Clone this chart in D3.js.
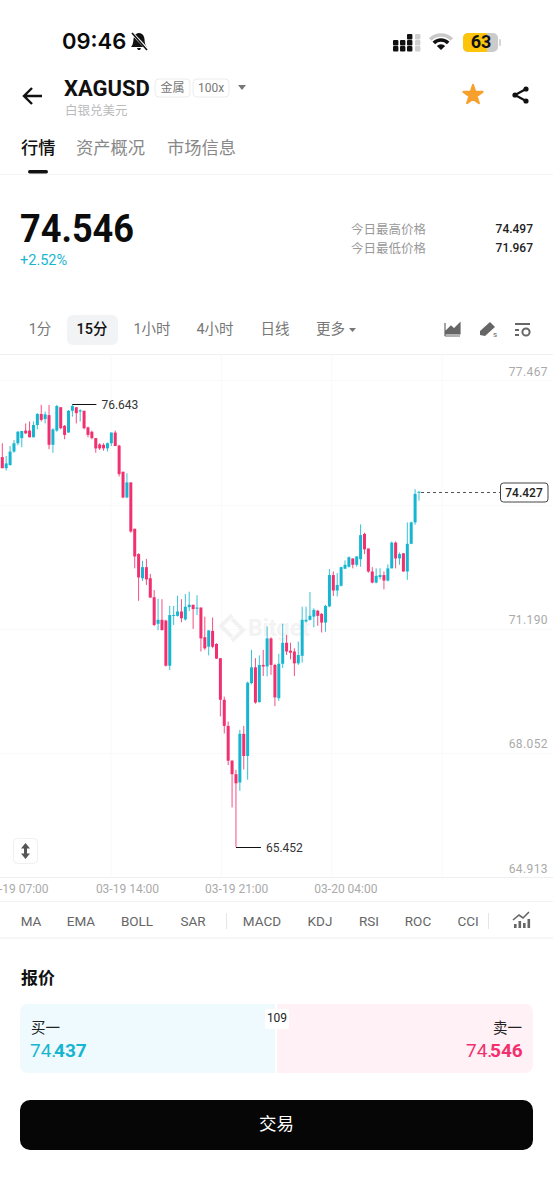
<!DOCTYPE html>
<html>
<head>
<meta charset="utf-8">
<title>XAGUSD</title>
<script src="https://cdn.jsdelivr.net/npm/d3@7"></script>
<style>
  html, body { margin: 0; background: #fff; }
  svg { display: block; }
  text { font-family: Roboto, "Noto Sans CJK SC", sans-serif; }
</style>
</head>
<body>
<div id="chart"></div>
<script>
// candles, oldest first (15 min)
var opens = [75.30,75.02,75.10,75.44,75.65,75.78,75.97,75.97,75.80,76.11,76.39,76.26,76.36,75.61,75.97,76.56,76.09,75.92,76.47,76.56,76.45,76.47,76.05,75.94,75.78,75.62,75.61,75.52,75.65,75.92,75.59,74.93,74.28,74.66,73.49,72.85,72.24,72.52,72.24,71.76,71.09,71.19,71.17,70.03,71.29,71.29,71.40,71.20,71.51,71.57,71.47,71.50,70.75,70.51,70.91,70.58,70.22,69.17,68.51,67.63,67.29,67.08,68.31,67.75,69.59,69.99,69.11,70.05,70.01,70.72,70.05,69.21,70.08,70.61,70.41,70.39,70.09,70.28,71.15,71.19,71.27,71.42,71.34,71.12,71.53,72.32,71.93,72.05,72.48,72.53,72.74,72.58,72.72,73.36,72.99,72.41,72.13,72.27,72.32,72.18,72.49,73.14,72.74,72.87,72.41,73.11,73.65,74.40];
var highs = [75.65,75.33,75.58,75.73,75.96,75.96,76.15,76.20,76.20,76.41,76.62,76.45,76.62,76.03,76.62,76.56,76.11,76.49,76.643,76.56,76.51,76.47,76.07,75.97,75.78,75.65,75.65,75.67,75.92,75.97,75.61,74.93,74.89,74.66,73.49,72.87,72.68,72.73,72.35,71.94,71.72,71.71,71.19,71.54,71.54,71.80,71.71,71.84,71.90,71.57,71.81,71.50,71.27,70.93,71.25,70.60,70.22,69.25,68.62,67.65,67.40,68.41,68.51,69.63,70.43,70.22,70.29,70.43,71.02,70.75,70.08,70.33,71.09,70.81,70.61,70.47,70.64,71.52,71.52,71.89,71.48,71.44,71.36,71.57,72.47,72.41,72.37,72.53,72.69,72.79,72.74,72.80,73.60,73.39,72.99,72.52,72.49,72.49,72.41,72.59,73.17,73.17,72.89,72.87,73.65,73.67,74.49,74.43];
var lows = [75.02,74.96,75.08,75.41,75.60,75.55,75.88,75.80,75.80,76.00,76.20,76.15,75.50,75.41,75.94,76.00,75.75,75.92,76.32,76.15,76.20,76.00,75.80,75.75,75.41,75.48,75.46,75.44,75.58,75.58,74.81,74.26,74.26,73.39,72.49,71.67,72.17,72.07,71.75,71.03,70.93,70.92,70.01,69.92,71.06,71.27,71.13,71.17,71.41,70.96,71.31,70.39,70.43,70.29,70.47,70.20,68.75,68.32,67.52,66.45,65.452,66.87,67.41,67.15,69.56,69.07,69.10,69.77,69.76,69.80,69.01,69.14,69.97,70.30,70.19,69.77,70.05,70.11,71.12,71.17,71.00,71.04,70.87,70.89,71.51,71.79,71.78,72.03,72.47,72.51,72.49,72.53,72.53,72.85,72.38,72.11,72.11,72.21,71.96,72.16,72.49,72.49,72.58,72.41,72.20,73.10,73.59,74.20];
var closes = [75.02,75.14,75.44,75.65,75.94,75.96,75.90,75.80,76.11,76.39,76.24,76.38,75.61,76.00,76.59,76.03,75.86,76.47,76.59,76.41,76.48,76.03,75.86,75.78,75.52,75.52,75.52,75.65,75.92,75.58,74.87,74.28,74.66,73.42,72.79,72.26,72.52,72.21,71.75,71.06,71.19,70.93,70.03,71.31,71.31,71.40,71.23,71.52,71.57,71.46,71.50,70.72,70.47,70.92,70.51,70.21,69.17,68.51,67.63,67.29,67.06,68.31,67.75,69.60,69.99,69.10,70.05,70.01,70.72,70.05,69.23,70.08,70.61,70.39,70.36,70.09,70.30,71.19,71.19,71.29,71.44,71.29,71.12,71.54,72.32,71.93,72.07,72.52,72.58,72.77,72.58,72.79,73.33,72.97,72.41,72.13,72.30,72.32,72.18,72.49,73.14,72.74,72.85,72.41,73.11,73.65,74.37,74.427];

var priceTicks = [77.467, 71.190, 68.052, 64.913];
var gridPrices = [77.467, 74.328, 71.190, 68.052, 64.913];
var timeLabels = ["03-19 07:00", "03-19 14:00", "03-19 21:00", "03-20 04:00"];
var labelSlots = [-0.46, 27.9, 55.95, 84];
var gridSlots = [27.9, 56.3, 84.6, 112.9];
var highPrice = 76.643, lowPrice = 65.452, lastPrice = 74.427;

var periods = ["1分", "15分", "1小时", "4小时", "日线", "更多"];
var periodX = [40, 92, 152, 215, 275, 316];
var indicators = ["MA", "EMA", "BOLL", "SAR", "MACD", "KDJ", "RSI", "ROC", "CCI"];
var indicatorX = [31, 81, 137, 193, 262, 320, 369, 418, 468];

var blue = "#16b6d0", pink = "#f2306f";

var svg = d3.select("#chart").append("svg")
	.attr("width", 553)
	.attr("height", 1200);

function label(parent, x, y, str, size, color, weight, anchor) {
	return parent.append("text")
		.attr("x", x)
		.attr("y", y)
		.attr("dominant-baseline", "central")
		.attr("text-anchor", anchor || "start")
		.attr("font-size", size)
		.attr("font-weight", weight || 400)
		.attr("fill", color)
		.text(str);
}

// status bar
var statusBar = svg.append("g");
label(statusBar, 62, 41, "09:46", 22, "#0a0a0a", 600).style("font-family", "Inter");
statusBar.append("path")
	.attr("transform", "translate(139,41)")
	.attr("d", "M-8 6 C-5 3 -6 -2 -5 -4 C-4 -7 -2 -8 0 -8 C2 -8 4 -7 5 -4 C6 -2 5 3 8 6 Z M-2 7 L2 7 L1 9 L-1 9 Z")
	.attr("fill", "#111");
statusBar.append("line").attr("x1", 131).attr("y1", 32).attr("x2", 148).attr("y2", 50)
	.attr("stroke", "#fff").attr("stroke-width", 3);
statusBar.append("line").attr("x1", 132).attr("y1", 33).attr("x2", 147).attr("y2", 50)
	.attr("stroke", "#111").attr("stroke-width", 1.6);

// signal dots
var sigCols = [393, 400, 407, 415];
var sigRows = [[40, 46], [40, 46], [34, 40, 46], [34, 40, 46]];
sigCols.forEach(function (cx, i) {
	sigRows[i].forEach(function (cy) {
		statusBar.append("rect").attr("x", cx).attr("y", cy).attr("width", 5.4).attr("height", 5.4).attr("rx", 1)
			.attr("fill", i == 3 ? "#cfcfcf" : "#111");
	});
});
statusBar.selectAll(".wifi")
	.data([[15, "#c9c9c9"], [10, "#111"], [4, "#111"]])
	.enter().append("path")
	.attr("transform", "translate(441,50)")
	.attr("d", function (d) {
		return d3.arc()({innerRadius: d[0] == 4 ? 0 : d[0] - 1.8, outerRadius: d[0] + 1.8, startAngle: -0.8, endAngle: 0.8});
	})
	.attr("fill", function (d) { return d[1]; });
statusBar.append("rect").attr("x", 463).attr("y", 33).attr("width", 35).attr("height", 19).attr("rx", 5).attr("fill", "#cbcbcb");
statusBar.append("path").attr("d", "M468 33 H487 V52 H468 A5 5 0 0 1 463 47 V38 A5 5 0 0 1 468 33 Z").attr("fill", "#fcc40a");
statusBar.append("rect").attr("x", 499).attr("y", 39).attr("width", 2).attr("height", 7).attr("rx", 1).attr("fill", "#d5d5d5");
label(statusBar, 481, 41, "63", 18, "#111", 700, "middle");

// header
var head = svg.append("g");
head.append("path").attr("d", "M42 96 H24 M32 88 L24 96 L32 104")
	.attr("fill", "none").attr("stroke", "#111").attr("stroke-width", 2.4);
label(head, 64, 88, "XAGUSD", 22, "#111", 700);
[[155, 35, "金属"], [193, 36, "100x"]].forEach(function (b) {
	head.append("rect").attr("x", b[0]).attr("y", 79).attr("width", b[1]).attr("height", 18).attr("rx", 4)
		.attr("fill", "#fff").attr("stroke", "#ececec");
	label(head, b[0] + b[1] / 2, 88, b[2], 12, "#777", 400, "middle");
});
head.append("path").attr("d", "M238 85 H246 L242 90 Z").attr("fill", "#777");
label(head, 65, 110, "白银兑美元", 12.5, "#bbb");
head.append("path")
	.attr("transform", "translate(473,95)")
	.attr("d", d3.symbol().type(d3.symbolStar).size(115))
	.attr("fill", "#f7a02c")
	.attr("stroke", "#f7a02c")
	.attr("stroke-width", 2)
	.attr("stroke-linejoin", "round");
head.append("path").attr("d", "M526 89 L515 95 L526 101")
	.attr("fill", "none").attr("stroke", "#111").attr("stroke-width", 2.2);
[[526, 89], [515, 95], [526, 101]].forEach(function (p) {
	head.append("circle").attr("cx", p[0]).attr("cy", p[1]).attr("r", 2.6).attr("fill", "#111");
});

label(head, 21, 148, "行情", 17.3, "#111", 500);
label(head, 76, 148, "资产概况", 17.3, "#888");
label(head, 167, 148, "市场信息", 17.3, "#888");
head.append("rect").attr("x", 28).attr("y", 170).attr("width", 20).attr("height", 3.5).attr("rx", 1.7).attr("fill", "#111");
head.append("line").attr("x1", 0).attr("x2", 553).attr("y1", 174.5).attr("y2", 174.5).attr("stroke", "#f4f4f4");

// price block
var quote = svg.append("g");
label(quote, 20, 229, "74.546", 38, "#0c0c0c", 700)
	.attr("textLength", 114)
	.attr("lengthAdjust", "spacingAndGlyphs");
label(quote, 20, 260, "+2.52%", 14.5, blue);
label(quote, 351, 229, "今日最高价格", 12.5, "#999");
label(quote, 351, 248, "今日最低价格", 12.5, "#999");
label(quote, 533, 229, "74.497", 12, "#222", 500, "end");
label(quote, 533, 248, "71.967", 12, "#222", 500, "end");

// period row
var bar = svg.append("g");
bar.append("rect").attr("x", 67).attr("y", 315).attr("width", 51).attr("height", 30).attr("rx", 6).attr("fill", "#f2f3f5");
periods.forEach(function (p, i) {
	label(bar, periodX[i], 329, p, 14.5, i == 1 ? "#111" : "#777", i == 1 ? 500 : 400, i == 5 ? "start" : "middle");
});
bar.append("path").attr("d", "M349 328 H356 L352.5 332 Z").attr("fill", "#777");
bar.append("path").attr("d", "M445 336 V323 M445 336 H460 M446 334 V331 L451 326 L454 329 L460 323 V334 Z")
	.attr("stroke", "#666").attr("stroke-width", 1.2).attr("fill", "#666");
bar.append("path").attr("d", "M480 335 L480 331 L490 322 L495 327 L485 336 Z").attr("fill", "#666");
label(bar, 493, 334, "s", 8, "#666");
bar.append("path").attr("d", "M515 324 H530 M515 330 H519 M515 335 H519").attr("stroke", "#666").attr("stroke-width", 1.8);
bar.append("circle").attr("cx", 526).attr("cy", 332).attr("r", 3.6).attr("fill", "none").attr("stroke", "#666").attr("stroke-width", 2);
bar.append("line").attr("x1", 0).attr("x2", 553).attr("y1", 354.5).attr("y2", 354.5).attr("stroke", "#f0f0f0");

// scales
var x = d3.scaleLinear().domain([0, opens.length - 1]).range([2.3, 419]);
var y = d3.scaleLinear().domain([64.913, 77.467]).range([868.3, 371.3]);
var gridShift = 9;
var bodyWidth = 3;

var plot = svg.append("g");

// grid
plot.selectAll(".hgrid")
	.data(gridPrices)
	.enter().append("line")
	.attr("class", "hgrid")
	.attr("x1", 0).attr("x2", 553)
	.attr("y1", function (d) { return Math.round(y(d) + gridShift) + 0.5; })
	.attr("y2", function (d) { return Math.round(y(d) + gridShift) + 0.5; })
	.attr("stroke", function (d, i) { return i == gridPrices.length - 1 ? "#efefef" : "#f9f9f9"; });

plot.selectAll(".vgrid")
	.data(gridSlots)
	.enter().append("line")
	.attr("class", "vgrid")
	.attr("x1", function (d) { return x(d); })
	.attr("x2", function (d) { return x(d); })
	.attr("y1", 355).attr("y2", 877)
	.attr("stroke", "#f9f9f9");

// watermark
plot.append("path").attr("d", "M232 615 L221 626 L232 637 M232 619 L243 630 L232 641")
	.attr("fill", "none").attr("stroke", "#f2f2f2").attr("stroke-width", 4);
label(plot, 248, 628, "Bitget", 23, "#f3f3f3", 700);

// candles
var candles = d3.range(opens.length);
plot.selectAll(".wick")
	.data(candles)
	.enter().append("line")
	.attr("class", "wick")
	.attr("x1", function (i) { return x(i); })
	.attr("x2", function (i) { return x(i); })
	.attr("y1", function (i) { return y(highs[i]); })
	.attr("y2", function (i) { return y(lows[i]); })
	.attr("stroke", function (i) { return closes[i] >= opens[i] ? blue : pink; })
	.attr("stroke-opacity", 0.85)
	.attr("stroke-width", 1);

plot.selectAll(".body")
	.data(candles)
	.enter().append("rect")
	.attr("class", "body")
	.attr("x", function (i) { return x(i) - bodyWidth / 2; })
	.attr("width", bodyWidth)
	.attr("y", function (i) { return y(Math.max(opens[i], closes[i])); })
	.attr("height", function (i) { return Math.max(1, Math.abs(y(opens[i]) - y(closes[i]))); })
	.attr("fill", function (i) { return closes[i] >= opens[i] ? blue : pink; });

// y axis labels
var yAxis = svg.append("g")
	.attr("transform", "translate(548,0)")
	.call(d3.axisLeft(y).tickValues(priceTicks).tickSize(0).tickPadding(0).tickFormat(d3.format(".3f")));
yAxis.select(".domain").remove();
yAxis.selectAll("text").attr("font-size", 12).attr("fill", "#aaa").style("font-family", "Roboto").style("letter-spacing", "0.4px");

// x axis labels
var xAxis = svg.append("g")
	.attr("transform", "translate(16,883)")
	.call(d3.axisBottom(x).tickValues(labelSlots).tickSize(0).tickPadding(1)
		.tickFormat(function (d, i) { return timeLabels[i]; }));
xAxis.select(".domain").remove();
xAxis.selectAll("text").attr("font-size", 12).attr("fill", "#aaa").style("font-family", "Roboto");

// high and low markers
var hiIdx = highs.indexOf(highPrice), loIdx = lows.indexOf(lowPrice);
var hiY = Math.round(y(highPrice)) + 0.5, loY = Math.round(y(lowPrice)) + 0.5;
plot.append("line").attr("x1", x(hiIdx)).attr("x2", x(hiIdx) + 24).attr("y1", hiY).attr("y2", hiY).attr("stroke", "#111");
label(plot, x(hiIdx) + 29, hiY, d3.format(".3f")(highPrice), 12, "#333");
plot.append("line").attr("x1", x(loIdx)).attr("x2", x(loIdx) + 25).attr("y1", loY).attr("y2", loY).attr("stroke", "#111");
label(plot, x(loIdx) + 30, loY, d3.format(".3f")(lowPrice), 12, "#333");

// last price
var lastY = Math.round(y(lastPrice)) + 0.5;
plot.append("line")
	.attr("x1", x(opens.length - 1) + 2).attr("x2", 500)
	.attr("y1", lastY).attr("y2", lastY)
	.attr("stroke", "#555").attr("stroke-dasharray", "3,3");
plot.append("rect").attr("x", 500.5).attr("y", lastY - 9.5).attr("width", 47.5).attr("height", 19).attr("rx", 3)
	.attr("fill", "#fff").attr("stroke", "#444");
label(plot, 524, lastY, d3.format(".3f")(lastPrice), 12, "#222", 500, "middle");

// resize button
plot.append("rect").attr("x", 13.5).attr("y", 838.5).attr("width", 24).attr("height", 25).attr("rx", 4)
	.attr("fill", "#fff").attr("stroke", "#f0f0f0");
plot.append("path").attr("d", "M25.5 843 L30 848.5 H27 V853.5 H30 L25.5 859 L21 853.5 H24 V848.5 H21 Z")
	.attr("fill", "#555");

// indicator row
var ind = svg.append("g");
ind.append("line").attr("x1", 0).attr("x2", 553).attr("y1", 901.5).attr("y2", 901.5).attr("stroke", "#f2f2f2");
indicators.forEach(function (d, i) {
	label(ind, indicatorX[i], 921, d, 13.5, "#666", 400, "middle");
});
[226, 488].forEach(function (sx) {
	ind.append("line").attr("x1", sx + 0.5).attr("x2", sx + 0.5).attr("y1", 913).attr("y2", 929).attr("stroke", "#e6e6e6");
});
[[514, 4], [518.5, 7], [523, 5], [527.5, 9]].forEach(function (b) {
	ind.append("rect").attr("x", b[0]).attr("y", 928 - b[1]).attr("width", 2.6).attr("height", b[1]).attr("fill", "#666");
});
ind.append("path").attr("d", "M513 920 L519 915 L523 918 L529 912").attr("fill", "none").attr("stroke", "#666").attr("stroke-width", 1.6);
ind.append("line").attr("x1", 0).attr("x2", 553).attr("y1", 938).attr("y2", 938).attr("stroke", "#f3f3f3").attr("stroke-width", 1.5);

// order book
var book = svg.append("g");
label(book, 21, 978, "报价", 17, "#111", 700);
book.append("path").attr("d", "M28 1004 H275 V1073 H28 A8 8 0 0 1 20 1065 V1012 A8 8 0 0 1 28 1004 Z").attr("fill", "#eefafd");
book.append("path").attr("d", "M277 1004 H525 A8 8 0 0 1 533 1012 V1065 A8 8 0 0 1 525 1073 H277 Z").attr("fill", "#fff1f5");
book.append("rect").attr("x", 265).attr("y", 1009).attr("width", 24).attr("height", 20).attr("rx", 2).attr("fill", "#fff");
label(book, 277, 1018, "109", 12, "#222", 400, "middle");
label(book, 31, 1028, "买一", 14.5, "#222");
label(book, 522, 1028, "卖一", 14.5, "#222", 400, "end");

[[30, "74.", 400, blue], [54, "437", 700, blue], [466, "74.", 400, pink], [490, "546", 700, pink]].forEach(function (t) {
	label(book, t[0], 1050, t[1], 19, t[3], t[2]);
});

// trade button
svg.append("rect").attr("x", 20).attr("y", 1100).attr("width", 513).attr("height", 50).attr("rx", 10).attr("fill", "#060606");
label(svg, 276.5, 1124, "交易", 17.5, "#fff", 400, "middle");
</script>
</body>
</html>
